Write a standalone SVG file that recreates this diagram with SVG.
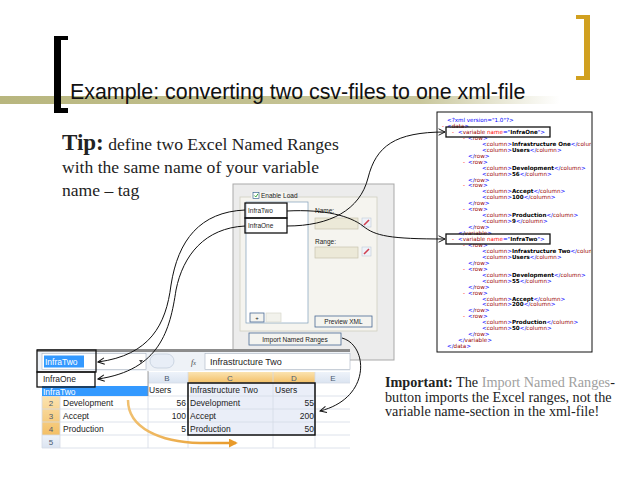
<svg xmlns="http://www.w3.org/2000/svg" width="638" height="479" viewBox="0 0 638 479">
<defs>
<style>
.serif{font-family:"Liberation Serif","Times New Roman",serif;fill:#222}
.ui{font-family:"Liberation Sans",Arial,sans-serif;font-size:6.5px;fill:#222}
.xl{font-family:"Liberation Sans",Arial,sans-serif;font-size:8.5px;fill:#222}
.hdr{font-family:"Liberation Sans",Arial,sans-serif;font-size:8px;fill:#4a5a70;text-anchor:middle}
.x{font-family:"DejaVu Sans",Verdana,sans-serif;font-size:5.6px}
.b{fill:#0000ff}
.t{fill:#990000}
.a{fill:#ff0000}
.m{fill:#ff0000}
.v{fill:#000;font-weight:bold}
.conn{fill:none;stroke:#111;stroke-width:1}
.box{fill:none;stroke:#111;stroke-width:1.3}
.btn{fill:#f4f4f0;stroke:#4a6a94;stroke-width:0.8}
.grid{stroke:#d4dbe6;stroke-width:0.8}
</style>
<linearGradient id="band" x1="0" y1="0" x2="1" y2="0">
<stop offset="0" stop-color="#b8b67e"/>
<stop offset="0.75" stop-color="#c9c79c"/>
<stop offset="1" stop-color="#ffffff"/>
</linearGradient>
<linearGradient id="org" x1="0" y1="0" x2="0" y2="1">
<stop offset="0" stop-color="#fbe3b0"/>
<stop offset="1" stop-color="#f3bf66"/>
</linearGradient>
<linearGradient id="hb" x1="0" y1="0" x2="0" y2="1">
<stop offset="0" stop-color="#eef3fa"/>
<stop offset="1" stop-color="#dbe4f1"/>
</linearGradient>
<linearGradient id="orarrow" x1="0" y1="0" x2="1" y2="0">
<stop offset="0" stop-color="#f0c070"/>
<stop offset="1" stop-color="#e89a2a"/>
</linearGradient>
<clipPath id="xclip"><rect x="437" y="112" width="154" height="240"/></clipPath>
<clipPath id="ddclip"><rect x="42" y="386" width="106" height="10"/></clipPath>
<marker id="arr" viewBox="0 0 10 10" refX="9" refY="5" markerWidth="8" markerHeight="8" orient="auto" markerUnits="userSpaceOnUse">
<path d="M1,1 L9,5 L1,9" fill="none" stroke="#111" stroke-width="1.2"/>
</marker>
<marker id="oarr" viewBox="0 0 10 10" refX="8" refY="5" markerWidth="9" markerHeight="9" orient="auto" markerUnits="userSpaceOnUse">
<path d="M0,0 L10,5 L0,10 Z" fill="#e89a2a"/>
</marker>
</defs>
<rect width="638" height="479" fill="#ffffff"/>

<g id="title">
<rect x="0" y="96" width="560" height="8" fill="url(#band)"/>
<path d="M54,36 H68 V40 H61 V108 H68 V113 H54 Z" fill="#000"/>
<path d="M576,15 H590 V80 H576 V76 H584 V19 H576 Z" fill="#d1a01f"/>
<text x="70" y="99" style="font-family:'Liberation Sans',Arial,sans-serif;font-size:21.4px;fill:#111">Example: converting two csv-files to one xml-file</text>
</g>

<g id="tip">
<text class="serif" x="62" y="150" style="font-size:17.6px"><tspan style="font-weight:bold;font-size:23px">Tip:</tspan> define two Excel Named Ranges</text>
<text class="serif" x="62" y="173" style="font-size:17.6px">with the same name of your variable</text>
<text class="serif" x="62" y="196" style="font-size:17.6px">name – tag</text>
</g>

<g id="xml">
<rect x="437" y="112" width="155" height="240" fill="#fff" stroke="#111" stroke-width="1"/>
<g clip-path="url(#xclip)" class="x">
<text x="447" y="122" class="b">&lt;?xml version="1.0"?&gt;</text>
<text x="442" y="128"><tspan class="m">-</tspan><tspan x="447" class="b">&lt;</tspan><tspan class="t">data</tspan><tspan class="b">&gt;</tspan></text>
<text x="452" y="133.9"><tspan class="m">-</tspan><tspan x="458" class="b">&lt;</tspan><tspan class="t">variable</tspan><tspan class="a"> name</tspan><tspan class="b">="</tspan><tspan class="v">InfraOne</tspan><tspan class="b">"&gt;</tspan></text>
<text x="463" y="139.85"><tspan class="m">-</tspan><tspan x="468" class="b">&lt;</tspan><tspan class="t">row</tspan><tspan class="b">&gt;</tspan></text>
<text x="482" y="145.8"><tspan class="b">&lt;</tspan><tspan class="t">column</tspan><tspan class="b">&gt;</tspan><tspan class="v">Infrastructure One</tspan><tspan class="b">&lt;/</tspan><tspan class="t">column</tspan><tspan class="b">&gt;</tspan></text>
<text x="482" y="151.75"><tspan class="b">&lt;</tspan><tspan class="t">column</tspan><tspan class="b">&gt;</tspan><tspan class="v">Users</tspan><tspan class="b">&lt;/</tspan><tspan class="t">column</tspan><tspan class="b">&gt;</tspan></text>
<text x="468" y="157.7"><tspan class="b">&lt;/</tspan><tspan class="t">row</tspan><tspan class="b">&gt;</tspan></text>
<text x="463" y="163.65"><tspan class="m">-</tspan><tspan x="468" class="b">&lt;</tspan><tspan class="t">row</tspan><tspan class="b">&gt;</tspan></text>
<text x="482" y="169.6"><tspan class="b">&lt;</tspan><tspan class="t">column</tspan><tspan class="b">&gt;</tspan><tspan class="v">Development</tspan><tspan class="b">&lt;/</tspan><tspan class="t">column</tspan><tspan class="b">&gt;</tspan></text>
<text x="482" y="175.55"><tspan class="b">&lt;</tspan><tspan class="t">column</tspan><tspan class="b">&gt;</tspan><tspan class="v">56</tspan><tspan class="b">&lt;/</tspan><tspan class="t">column</tspan><tspan class="b">&gt;</tspan></text>
<text x="468" y="181.5"><tspan class="b">&lt;/</tspan><tspan class="t">row</tspan><tspan class="b">&gt;</tspan></text>
<text x="463" y="187.45"><tspan class="m">-</tspan><tspan x="468" class="b">&lt;</tspan><tspan class="t">row</tspan><tspan class="b">&gt;</tspan></text>
<text x="482" y="193.4"><tspan class="b">&lt;</tspan><tspan class="t">column</tspan><tspan class="b">&gt;</tspan><tspan class="v">Accept</tspan><tspan class="b">&lt;/</tspan><tspan class="t">column</tspan><tspan class="b">&gt;</tspan></text>
<text x="482" y="199.35"><tspan class="b">&lt;</tspan><tspan class="t">column</tspan><tspan class="b">&gt;</tspan><tspan class="v">100</tspan><tspan class="b">&lt;/</tspan><tspan class="t">column</tspan><tspan class="b">&gt;</tspan></text>
<text x="468" y="205.3"><tspan class="b">&lt;/</tspan><tspan class="t">row</tspan><tspan class="b">&gt;</tspan></text>
<text x="463" y="211.25"><tspan class="m">-</tspan><tspan x="468" class="b">&lt;</tspan><tspan class="t">row</tspan><tspan class="b">&gt;</tspan></text>
<text x="482" y="217.2"><tspan class="b">&lt;</tspan><tspan class="t">column</tspan><tspan class="b">&gt;</tspan><tspan class="v">Production</tspan><tspan class="b">&lt;/</tspan><tspan class="t">column</tspan><tspan class="b">&gt;</tspan></text>
<text x="482" y="223.15"><tspan class="b">&lt;</tspan><tspan class="t">column</tspan><tspan class="b">&gt;</tspan><tspan class="v">9</tspan><tspan class="b">&lt;/</tspan><tspan class="t">column</tspan><tspan class="b">&gt;</tspan></text>
<text x="468" y="229.1"><tspan class="b">&lt;/</tspan><tspan class="t">row</tspan><tspan class="b">&gt;</tspan></text>
<text x="458" y="235.05"><tspan class="b">&lt;/</tspan><tspan class="t">variable</tspan><tspan class="b">&gt;</tspan></text>
<text x="452" y="241"><tspan class="m">-</tspan><tspan x="458" class="b">&lt;</tspan><tspan class="t">variable</tspan><tspan class="a"> name</tspan><tspan class="b">="</tspan><tspan class="v">InfraTwo</tspan><tspan class="b">"&gt;</tspan></text>
<text x="463" y="246.95"><tspan class="m">-</tspan><tspan x="468" class="b">&lt;</tspan><tspan class="t">row</tspan><tspan class="b">&gt;</tspan></text>
<text x="482" y="252.9"><tspan class="b">&lt;</tspan><tspan class="t">column</tspan><tspan class="b">&gt;</tspan><tspan class="v">Infrastructure Two</tspan><tspan class="b">&lt;/</tspan><tspan class="t">column</tspan><tspan class="b">&gt;</tspan></text>
<text x="482" y="258.85"><tspan class="b">&lt;</tspan><tspan class="t">column</tspan><tspan class="b">&gt;</tspan><tspan class="v">Users</tspan><tspan class="b">&lt;/</tspan><tspan class="t">column</tspan><tspan class="b">&gt;</tspan></text>
<text x="468" y="264.8"><tspan class="b">&lt;/</tspan><tspan class="t">row</tspan><tspan class="b">&gt;</tspan></text>
<text x="463" y="270.75"><tspan class="m">-</tspan><tspan x="468" class="b">&lt;</tspan><tspan class="t">row</tspan><tspan class="b">&gt;</tspan></text>
<text x="482" y="276.7"><tspan class="b">&lt;</tspan><tspan class="t">column</tspan><tspan class="b">&gt;</tspan><tspan class="v">Development</tspan><tspan class="b">&lt;/</tspan><tspan class="t">column</tspan><tspan class="b">&gt;</tspan></text>
<text x="482" y="282.65"><tspan class="b">&lt;</tspan><tspan class="t">column</tspan><tspan class="b">&gt;</tspan><tspan class="v">55</tspan><tspan class="b">&lt;/</tspan><tspan class="t">column</tspan><tspan class="b">&gt;</tspan></text>
<text x="468" y="288.6"><tspan class="b">&lt;/</tspan><tspan class="t">row</tspan><tspan class="b">&gt;</tspan></text>
<text x="463" y="294.55"><tspan class="m">-</tspan><tspan x="468" class="b">&lt;</tspan><tspan class="t">row</tspan><tspan class="b">&gt;</tspan></text>
<text x="482" y="300.5"><tspan class="b">&lt;</tspan><tspan class="t">column</tspan><tspan class="b">&gt;</tspan><tspan class="v">Accept</tspan><tspan class="b">&lt;/</tspan><tspan class="t">column</tspan><tspan class="b">&gt;</tspan></text>
<text x="482" y="306.45"><tspan class="b">&lt;</tspan><tspan class="t">column</tspan><tspan class="b">&gt;</tspan><tspan class="v">200</tspan><tspan class="b">&lt;/</tspan><tspan class="t">column</tspan><tspan class="b">&gt;</tspan></text>
<text x="468" y="312.4"><tspan class="b">&lt;/</tspan><tspan class="t">row</tspan><tspan class="b">&gt;</tspan></text>
<text x="463" y="318.35"><tspan class="m">-</tspan><tspan x="468" class="b">&lt;</tspan><tspan class="t">row</tspan><tspan class="b">&gt;</tspan></text>
<text x="482" y="324.3"><tspan class="b">&lt;</tspan><tspan class="t">column</tspan><tspan class="b">&gt;</tspan><tspan class="v">Production</tspan><tspan class="b">&lt;/</tspan><tspan class="t">column</tspan><tspan class="b">&gt;</tspan></text>
<text x="482" y="330.25"><tspan class="b">&lt;</tspan><tspan class="t">column</tspan><tspan class="b">&gt;</tspan><tspan class="v">50</tspan><tspan class="b">&lt;/</tspan><tspan class="t">column</tspan><tspan class="b">&gt;</tspan></text>
<text x="468" y="336.2"><tspan class="b">&lt;/</tspan><tspan class="t">row</tspan><tspan class="b">&gt;</tspan></text>
<text x="458" y="342.15"><tspan class="b">&lt;/</tspan><tspan class="t">variable</tspan><tspan class="b">&gt;</tspan></text>
<text x="447" y="348.1"><tspan class="b">&lt;/</tspan><tspan class="t">data</tspan><tspan class="b">&gt;</tspan></text>
</g>
<rect x="446" y="127" width="104" height="10" class="box"/>
<rect x="446" y="234" width="104" height="10" class="box"/>
</g>

<g id="dialog">
<rect x="233" y="184" width="161" height="176" fill="#ececec" stroke="#a9a9a9" stroke-width="1"/>
<rect x="240" y="197" width="137" height="134" fill="#f5f4ef" stroke="#d0cfc0" stroke-width="0.8"/>
<rect x="251" y="192" width="36" height="8" fill="#f5f4ef"/>
<rect x="253" y="192.5" width="6" height="6" fill="#fff" stroke="#1c5180" stroke-width="0.6"/>
<path d="M254.3,195.5 L255.8,197 L258,193.8" fill="none" stroke="#21a121" stroke-width="0.9"/>
<text class="ui" x="261" y="198">Enable Load</text>
<rect x="246" y="202" width="62" height="121" fill="#fff" stroke="#7f9db9" stroke-width="0.7"/>
<rect x="245" y="203" width="42" height="15" class="box"/>
<text class="ui" x="248" y="213">InfraTwo</text>
<rect x="245" y="218" width="42" height="15" class="box"/>
<text class="ui" x="248" y="228">InfraOne</text>
<text class="ui" x="315" y="213">Name:</text>
<rect x="315" y="218" width="43" height="11" fill="#ece9d8" stroke="#c8c4b0" stroke-width="0.7"/>
<rect x="362" y="218" width="9" height="9" fill="#eef2f8" stroke="#b9c3d3" stroke-width="0.5"/>
<path d="M364,225 L369,220" stroke="#d04050" stroke-width="1.6"/>
<text class="ui" x="315" y="244">Range:</text>
<rect x="315" y="247" width="43" height="11" fill="#ece9d8" stroke="#c8c4b0" stroke-width="0.7"/>
<rect x="362" y="247" width="9" height="9" fill="#eef2f8" stroke="#b9c3d3" stroke-width="0.5"/>
<path d="M364,254 L369,249" stroke="#d04050" stroke-width="1.6"/>
<rect x="250" y="313" width="14" height="9" class="btn"/>
<text class="ui" x="257" y="320" text-anchor="middle" style="font-size:6px">+</text>
<rect x="266" y="313" width="15" height="9" fill="#f2f2ec" stroke="#d8d8cc" stroke-width="0.7"/>
<rect x="315" y="316" width="57" height="11" class="btn"/>
<text class="ui" x="343.5" y="324" text-anchor="middle">Preview XML</text>
<rect x="249" y="333" width="92" height="12" class="btn"/>
<text class="ui" x="295" y="341.5" text-anchor="middle">Import Named Ranges</text>
</g>

<g id="excel">
<rect x="37" y="350" width="313" height="100" fill="#fff"/>
<rect x="37" y="349" width="313" height="3" fill="#8c8c8c"/>
<rect x="37" y="352" width="313" height="19" fill="#eef2f7"/>
<rect x="42" y="353.5" width="104" height="16" fill="#fff" stroke="#a8b3c2" stroke-width="0.6"/>
<path d="M139,360 L143,360 L141,363 Z" fill="#444"/>
<rect x="150" y="354" width="24" height="14" rx="7" fill="#e8eef7" stroke="#b5c2d4" stroke-width="0.6"/>
<text x="191" y="365" style="font-family:'Liberation Serif',serif;font-style:italic;font-size:8px;fill:#444">f<tspan style="font-size:6px">x</tspan></text>
<rect x="205" y="353.5" width="145" height="16" fill="#fff" stroke="#a8b3c2" stroke-width="0.6"/>
<text class="xl" x="210" y="365" style="font-size:9px">Infrastructure Two</text>
<rect x="42" y="372" width="308" height="11" fill="url(#hb)"/>
<rect x="188" y="372" width="127" height="11" fill="url(#org)"/>
<rect x="190" y="383" width="125" height="52" fill="#eaeef8"/>
<rect x="42" y="396" width="18" height="39" fill="url(#org)"/>
<rect x="42" y="435" width="18" height="13" fill="url(#hb)"/>
<g class="grid">
<line x1="42" y1="383" x2="350" y2="383"/>
<line x1="42" y1="396" x2="350" y2="396"/>
<line x1="42" y1="409" x2="350" y2="409"/>
<line x1="42" y1="422" x2="350" y2="422"/>
<line x1="42" y1="435" x2="350" y2="435"/>
<line x1="42" y1="448" x2="350" y2="448"/>
<line x1="60" y1="372" x2="60" y2="448"/>
<line x1="148" y1="372" x2="148" y2="448"/>
<line x1="188" y1="372" x2="188" y2="448"/>
<line x1="273" y1="372" x2="273" y2="448"/>
<line x1="315" y1="372" x2="315" y2="448"/>
<line x1="42" y1="372" x2="42" y2="448"/>
</g>
<text class="hdr" x="167" y="381">B</text>
<text class="hdr" x="230" y="381">C</text>
<text class="hdr" x="294" y="381">D</text>
<text class="hdr" x="333" y="381">E</text>
<text class="hdr" x="51" y="406">2</text>
<text class="hdr" x="51" y="419">3</text>
<text class="hdr" x="51" y="432">4</text>
<text class="hdr" x="51" y="445">5</text>
<text class="xl" x="149" y="393">Users</text>
<text class="xl" x="190" y="393">Infrastructure Two</text>
<text class="xl" x="275" y="393">Users</text>
<text class="xl" x="63" y="406">Development</text>
<text class="xl" x="186" y="406" text-anchor="end">56</text>
<text class="xl" x="190" y="406">Development</text>
<text class="xl" x="314" y="406" text-anchor="end">55</text>
<text class="xl" x="63" y="419">Accept</text>
<text class="xl" x="186" y="419" text-anchor="end">100</text>
<text class="xl" x="190" y="419">Accept</text>
<text class="xl" x="314" y="419" text-anchor="end">200</text>
<text class="xl" x="63" y="432">Production</text>
<text class="xl" x="186" y="432" text-anchor="end">5</text>
<text class="xl" x="190" y="432">Production</text>
<text class="xl" x="314" y="432" text-anchor="end">50</text>
<rect x="188" y="383" width="127" height="52" fill="none" stroke="#111" stroke-width="1.5"/>
<rect x="37" y="371" width="111" height="25" fill="#fff"/>
<rect x="42" y="386" width="106" height="10" fill="#3399ff"/>
<line x1="148" y1="371" x2="148" y2="396" stroke="#8a8a8a" stroke-width="0.8"/>
<text class="xl" x="43" y="382">InfraOne</text>
<g clip-path="url(#ddclip)"><text class="xl" x="43" y="395" style="fill:#fff">InfraTwo</text></g>
<rect x="44" y="355.5" width="40" height="12" fill="#3399ff"/>
<text class="xl" x="45" y="365" style="fill:#fff">InfraTwo</text>
<rect x="37" y="350" width="59" height="22" class="box"/>
<rect x="37" y="372" width="58" height="15" class="box"/>
</g>

<g id="important">
<text class="serif" x="385" y="387" style="font-size:14.2px"><tspan style="font-weight:bold">Important:</tspan> The <tspan style="fill:#a0a0a0">Import Named Ranges</tspan>-</text>
<text class="serif" x="385" y="401.5" style="font-size:14.2px">button imports the Excel ranges, not the</text>
<text class="serif" x="385" y="416" style="font-size:14.2px">variable name-section in the xml-file!</text>
</g>

<g id="connectors">
<path class="conn" d="M287,211 C325,209 350,216 363,226 C375,236 390,239 445,239" marker-end="url(#arr)"/>
<path class="conn" d="M287,226 C330,226 360,210 368,178 C376,146 395,132 445,132" marker-end="url(#arr)"/>
<path class="conn" d="M245,210 C200,212 178,240 171,285 C166,325 150,355 98,362" marker-end="url(#arr)"/>
<path class="conn" d="M245,226 C205,228 183,255 176,290 C170,330 160,370 98,379" marker-end="url(#arr)"/>
<path class="conn" d="M342,338 C368,345 372,398 320,411" stroke-width="1.3" marker-end="url(#arr)"/>
<path d="M128,400 C128,428 160,442 200,443 L236,443" fill="none" stroke="url(#orarrow)" stroke-width="2.5" marker-end="url(#oarr)"/>
</g>
</svg>
